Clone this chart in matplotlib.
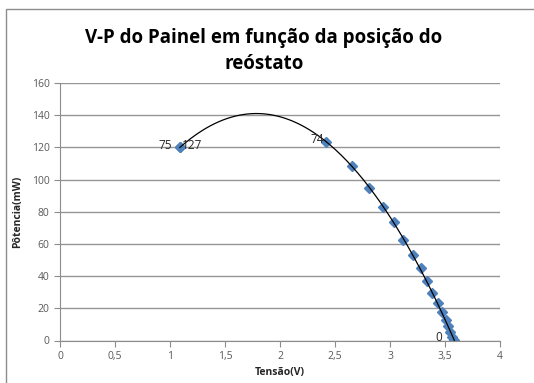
# curva V-P do painel com linha de tendência polinomial (ordem 2)

import numpy as np
import matplotlib.pyplot as plt
from matplotlib.patches import Rectangle

tensao = [1.09, 1.09, 2.42, 2.65, 2.81, 2.94, 3.04, 3.115, 3.205, 3.28,
          3.34, 3.38, 3.435, 3.47, 3.505, 3.525, 3.545, 3.565, 3.585]
potencia = [120, 120, 123.5, 108.4, 94.6, 83.2, 73.8, 62.5, 53.4, 44.9,
            37.0, 29.3, 23.1, 17.9, 12.7, 9.0, 5.5, 2.4, 0.5]

# posição do reóstato para os pontos com rótulo (texto, deslocamento em pt)
rotulos = {0: ('75', -6), 1: ('127', 1.5), 2: ('74', -1.5), 18: ('0', -9)}

x_ticks = [0, 0.5, 1, 1.5, 2, 2.5, 3, 3.5, 4]
x_tick_labels = ['0', '0,5', '1', '1,5', '2', '2,5', '3', '3,5', '4']
y_ticks = [0, 20, 40, 60, 80, 100, 120, 140, 160]

plt.rcParams['font.family'] = ['Open Sans', 'DejaVu Sans']

fig = plt.figure(figsize=(5.34, 3.83), dpi=100)
fig.patches.append(Rectangle((6 / 534, -0.1), 1.2, 1.1 + (383 - 9) / 383 - 1.0,
                             transform=fig.transFigure, fill=False,
                             edgecolor='#8c8c8c', linewidth=1))

ax = fig.add_axes([60 / 534, 42.5 / 383, 440 / 534, 257.5 / 383])

# linha de tendência
coef = np.polyfit(tensao, potencia, 2)
xs = np.linspace(min(tensao), max(tensao), 200)
ax.plot(xs, np.polyval(coef, xs), color='black', linewidth=0.9, zorder=3)

ax.plot(tensao, potencia, linestyle='none', marker='D', markersize=5.5,
        color='#4f81bd', zorder=2)

for i, (txt, dx) in rotulos.items():
    ax.annotate(txt, (tensao[i], potencia[i]), xytext=(dx, 1.5),
                textcoords='offset points', ha='right' if dx < 0 else 'left',
                va='center', fontsize=8.5, color='#262626', zorder=4)

ax.set_xlim(0, 4)
ax.set_ylim(0, 160)
ax.set_xticks(x_ticks)
ax.set_xticklabels(x_tick_labels)
ax.set_yticks(y_ticks)
ax.tick_params(colors='#8c8c8c', labelcolor='#595959', labelsize=7.5,
               direction='out', length=4)
ax.grid(axis='y', color='#969696', linewidth=1)
ax.set_axisbelow(True)
for s in ['top', 'right']:
    ax.spines[s].set_visible(False)
for s in ['left', 'bottom']:
    ax.spines[s].set_color('#8c8c8c')

ax.set_xlabel('Tensão(V)', fontsize=7.5, fontweight='bold', color='#262626', labelpad=4)
ax.set_ylabel('Pôtencia(mW)', fontsize=7.5, fontweight='bold', color='#262626', labelpad=6)

fig.text(264 / 534, 1 - 51 / 383, 'V-P do Painel em função da posição do\nreóstato',
         ha='center', va='center', fontsize=13.5, fontweight='bold',
         linespacing=1.35, color='black')

plt.savefig('out.png', dpi=100)
